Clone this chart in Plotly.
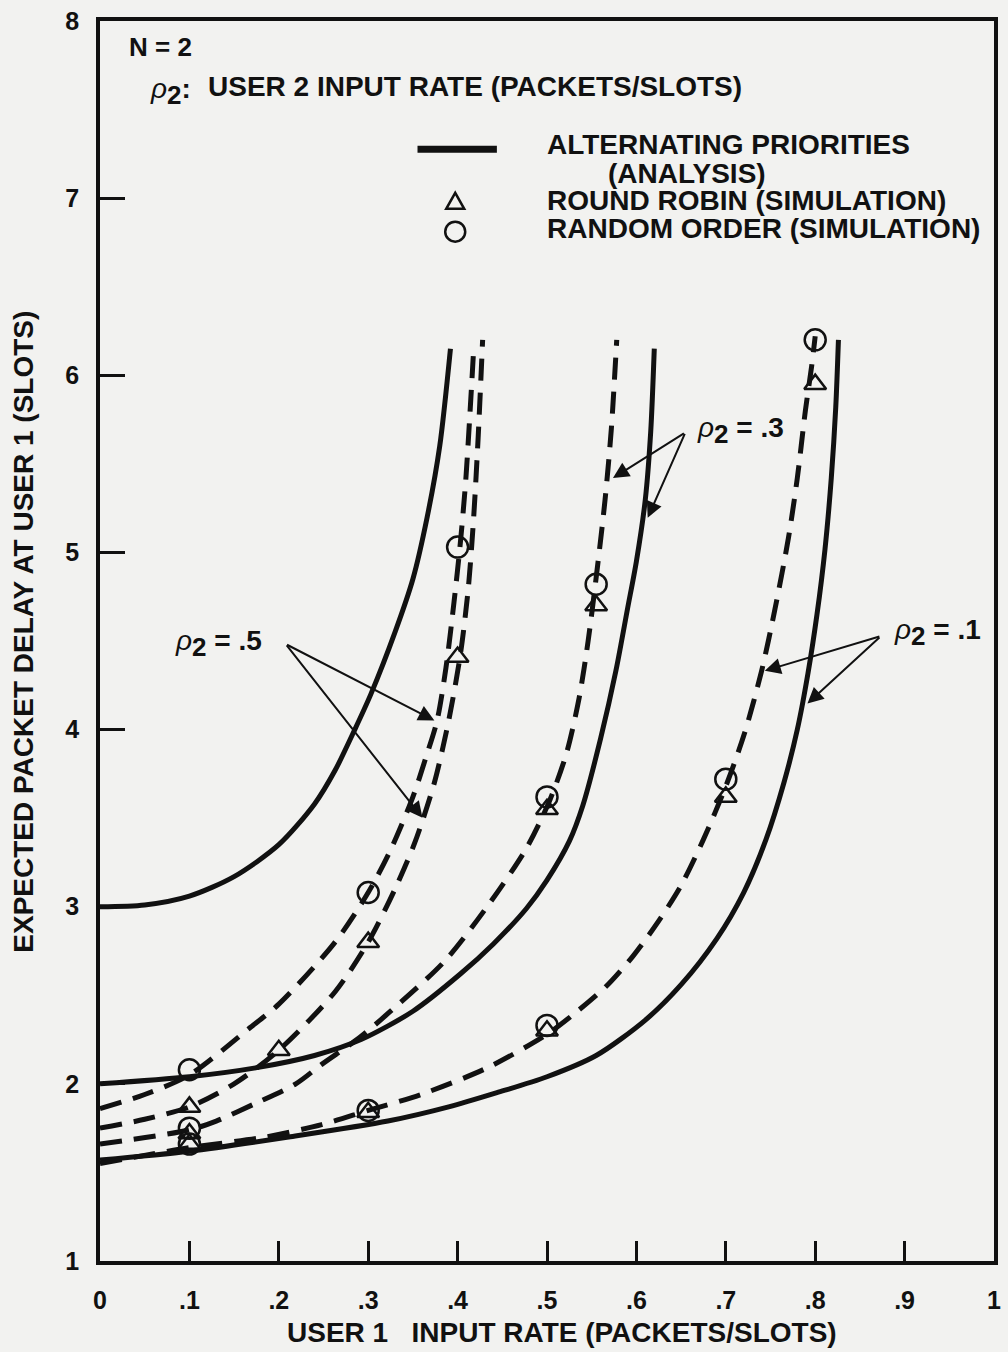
import plotly.graph_objects as go

# ---------------- data ----------------
# Alternating priorities (analysis) - solid curves
ap_r5_x = [0, .05, .1, .15, .2, .24, .263, .285, .303, .33, .35, .366, .38, .392]
ap_r5_y = [3.0, 3.01, 3.06, 3.17, 3.35, 3.58, 3.77, 4.0, 4.2, 4.55, 4.85, 5.2, 5.6, 6.15]
ap_r3_x = [0, .1, .174, .24, .292, .35, .403, .44, .477, .5, .525, .54, .56, .577, .59, .6, .61, .616, .62]
ap_r3_y = [2.0, 2.04, 2.09, 2.16, 2.25, 2.41, 2.62, 2.79, 2.99, 3.15, 3.37, 3.57, 3.95, 4.33, 4.68, 4.95, 5.3, 5.68, 6.15]
ap_r1_x = [0, .1, .211, .322, .39, .444, .5, .555, .61, .65, .69, .72, .745, .765, .78, .792, .802, .811, .818, .823, .826]
ap_r1_y = [1.57, 1.62, 1.70, 1.79, 1.87, 1.95, 2.04, 2.16, 2.36, 2.56, 2.82, 3.08, 3.38, 3.7, 4.0, 4.32, 4.65, 5.02, 5.42, 5.82, 6.2]

# dashed curves
da_r5a_x = [0, .05, .1, .166, .2, .263, .3, .325, .35, .365, .377, .387, .396, .403, .409, .414, .418]
da_r5a_y = [1.86, 1.94, 2.05, 2.31, 2.45, 2.8, 3.08, 3.32, 3.62, 3.85, 4.05, 4.35, 4.72, 5.05, 5.4, 5.8, 6.15]
da_r5b_x = [0, .05, .1, .15, .2, .263, .3, .33, .352, .374, .39, .403, .412, .418, .423, .428]
da_r5b_y = [1.75, 1.8, 1.87, 2.0, 2.19, 2.52, 2.8, 3.1, 3.36, 3.7, 4.05, 4.42, 4.8, 5.2, 5.65, 6.2]
da_r3_x = [0, .1, .13, .174, .219, .248, .29, .325, .385, .433, .477, .503, .522, .536, .546, .556, .565, .572, .578]
da_r3_y = [1.66, 1.74, 1.79, 1.89, 2.0, 2.11, 2.26, 2.41, 2.69, 3.0, 3.33, 3.6, 3.87, 4.18, 4.5, 4.9, 5.3, 5.7, 6.2]
da_r1_x = [0, .1, .185, .248, .3, .359, .433, .5, .529, .566, .596, .625, .65, .675, .7, .721, .74, .755, .77, .78, .789, .796, .8]
da_r1_y = [1.55, 1.64, 1.70, 1.77, 1.85, 1.94, 2.09, 2.28, 2.39, 2.55, 2.72, 2.92, 3.12, 3.38, 3.68, 3.98, 4.33, 4.68, 5.08, 5.42, 5.8, 6.05, 6.22]

# simulation points
rr_x = [.1, .2, .3, .4, .1, .5, .555, .1, .3, .5, .7, .8]
rr_y = [1.87, 2.19, 2.8, 4.41, 1.72, 3.55, 4.7, 1.66, 1.84, 2.3, 3.62, 5.95]
ro_x = [.1, .3, .4, .1, .5, .555, .1, .3, .5, .7, .8]
ro_y = [2.08, 3.08, 5.03, 1.75, 3.62, 4.82, 1.66, 1.85, 2.33, 3.72, 6.2]

x_ticks = [0, .1, .2, .3, .4, .5, .6, .7, .8, .9, 1]
x_ticktext = ["0", ".1", ".2", ".3", ".4", ".5", ".6", ".7", ".8", ".9", "1"]
y_ticks = [1, 2, 3, 4, 5, 6, 7, 8]
y_ticktext = ["1", "2", "3", "4", "5", "6", "7", "8"]

# ---------------- layout helpers ----------------
W, H = 1008, 1352
L, R, T, B = 100, 1001, 13, 1261
FONT = "Liberation Sans, Arial, Helvetica, sans-serif"
INK = "#111111"
BG = "#f2f2f0"


def d(xp, yp):
    """pixel -> data coordinates"""
    return (xp - L) / (R - L), 8 - (yp - T) / ((B - T) / 7)


fig = go.Figure()

solid = dict(color=INK, width=5)
dashed = dict(color=INK, width=5, dash="22px,12px")
for xs, ys in [(ap_r5_x, ap_r5_y), (ap_r3_x, ap_r3_y), (ap_r1_x, ap_r1_y)]:
    fig.add_trace(go.Scatter(x=xs, y=ys, mode="lines", line=dict(**solid, shape="spline", smoothing=0.8),
                             showlegend=False, hoverinfo="skip"))
for xs, ys in [(da_r5a_x, da_r5a_y), (da_r5b_x, da_r5b_y), (da_r3_x, da_r3_y), (da_r1_x, da_r1_y)]:
    fig.add_trace(go.Scatter(x=xs, y=ys, mode="lines", line=dict(**dashed, shape="spline", smoothing=0.8),
                             showlegend=False, hoverinfo="skip"))

fig.add_trace(go.Scatter(x=rr_x, y=rr_y, mode="markers",
                         marker=dict(symbol="triangle-up-open", size=19, color=INK, line=dict(width=2.5, color=INK)),
                         showlegend=False))
fig.add_trace(go.Scatter(x=ro_x, y=ro_y, mode="markers",
                         marker=dict(symbol="circle-open", size=21, color=INK, line=dict(width=2.5, color=INK)),
                         showlegend=False))

ann = []


def text(xp, yp, s, anchor="left", size=28, bold=True):
    x, y = d(xp, yp)
    ann.append(dict(x=x, y=y, xref="x", yref="y", text=s, showarrow=False, xanchor=anchor, yanchor="middle",
                    font=dict(family=FONT, size=size, color=INK, weight="bold" if bold else "normal")))


def arrow(tail, head):
    hx, hy = d(*head)
    tx, ty = d(*tail)
    ann.append(dict(x=hx, y=hy, ax=tx, ay=ty, xref="x", yref="y", axref="x", ayref="y", text="",
                    showarrow=True, arrowhead=2, arrowsize=1.6, arrowwidth=2, arrowcolor=INK))


RHO = "<span style='font-weight:normal'><i>ρ</i></span><sub><span style='font-size:26px'>2</span></sub>"

# header / legend
text(127, 39, "N = 2", size=26)
text(148, 84, RHO + ":")
text(207, 79, "USER 2 INPUT RATE (PACKETS/SLOTS)")
text(548, 137, "ALTERNATING PRIORITIES")
text(610, 166, "(ANALYSIS)")
text(548, 194, "ROUND ROBIN (SIMULATION)")
text(548, 222, "RANDOM ORDER (SIMULATION)")

# curve labels with arrows
text(265, 640, RHO + " = .5", anchor="right")
arrow((287, 640), (437, 717))
arrow((287, 640), (425, 815))
text(700, 425, RHO + " = .3")
arrow((690, 427), (617, 473))
arrow((690, 427), (652, 513))
text(898, 628, RHO + " = .1")
arrow((887, 632), (770, 667))
arrow((887, 632), (813, 700))

# axis titles
ann.append(dict(x=(22 - L) / (R - L), y=d(0, 628)[1], xref="paper", yref="y", textangle=-90,
                text="EXPECTED PACKET DELAY AT USER 1 (SLOTS)", showarrow=False, xanchor="center", yanchor="middle",
                font=dict(family=FONT, size=28, color=INK, weight="bold")))
ann.append(dict(x=(566 - L) / (R - L), y=(B - 1333) / (B - T), xref="paper", yref="paper",
                text="USER 1\u00a0\u00a0 INPUT RATE (PACKETS/SLOTS)", showarrow=False, xanchor="center", yanchor="middle",
                font=dict(family=FONT, size=28, color=INK, weight="bold")))

lx0, ly = d(420, 142)
lx1, _ = d(500, 142)
tx, ty = d(458, 195)
cx, cy = d(458, 225)
shapes = [
    dict(type="line", xref="x", yref="y", x0=lx0, x1=lx1, y0=ly, y1=ly, line=dict(color=INK, width=7)),
    dict(type="path", xref="x", yref="y", xsizemode="pixel", ysizemode="pixel", xanchor=tx, yanchor=ty,
         path="M -9,-7 L 9,-7 L 0,9 Z", line=dict(color=INK, width=2.5)),
    dict(type="circle", xref="x", yref="y", xsizemode="pixel", ysizemode="pixel", xanchor=cx, yanchor=cy,
         x0=-10, x1=10, y0=-10, y1=10, line=dict(color=INK, width=2.5)),
]

fig.update_layout(
    width=W, height=H,
    margin=dict(l=L, r=W - R, t=T, b=H - B),
    paper_bgcolor=BG, plot_bgcolor=BG,
    annotations=ann, shapes=shapes,
    showlegend=False,
)
fig.update_xaxes(range=[0, 1], tickvals=x_ticks, ticktext=x_ticktext, ticks="inside", ticklen=20, tickwidth=2.5,
                 tickcolor=INK, showline=True, linewidth=3.5, linecolor=INK, mirror=True, showgrid=False,
                 zeroline=False, ticklabelstandoff=14, ticklabeloverflow="allow",
                 tickfont=dict(family=FONT, size=25, color=INK, weight="bold"))
fig.update_yaxes(range=[1, 8], tickvals=y_ticks, ticktext=y_ticktext, ticks="inside", ticklen=25, tickwidth=2.5,
                 tickcolor=INK, showline=True, linewidth=3.5, linecolor=INK, mirror=True, showgrid=False,
                 zeroline=False, ticklabelstandoff=12, ticklabeloverflow="allow",
                 tickfont=dict(family=FONT, size=25, color=INK, weight="bold"))

fig.write_html("out.html", config={"displayModeBar": False},
               post_script="document.body.style.margin='0px';document.body.style.background='%s';" % BG)
